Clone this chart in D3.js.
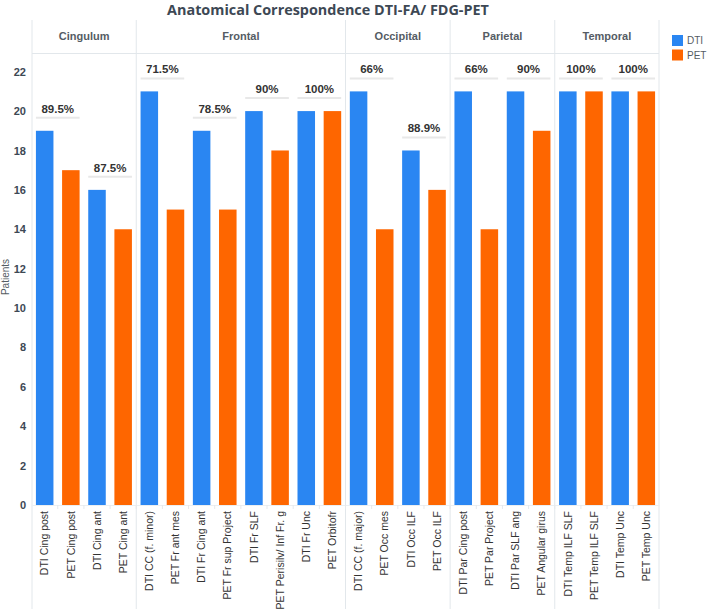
<!DOCTYPE html>
<html><head><meta charset="utf-8">
<script src="https://cdn.jsdelivr.net/npm/d3@7"></script>
<style>body{margin:0;background:#fff}svg{display:block}</style>
</head><body>
<svg id="c" width="707" height="611"></svg>
<script>
const groups = ["Cingulum","Frontal","Occipital","Parietal","Temporal"];
const categories = ["DTI Cing post","PET Cing post","DTI Cing ant","PET Cing ant",
 "DTI CC (f. minor)","PET Fr ant mes","DTI Fr Cing ant","PET Fr sup Project","DTI Fr SLF","PET Perisilv/ Inf Fr. g","DTI Fr Unc","PET Orbitofr",
 "DTI CC (f. major)","PET Occ mes","DTI Occ ILF","PET Occ ILF",
 "DTI Par Cing post","PET Par Project","DTI Par SLF ang","PET Angular girus",
 "DTI Temp ILF SLF","PET Temp ILF SLF","DTI Temp Unc","PET Temp Unc"];
const categoryGroup = [0,0,0,0, 1,1,1,1,1,1,1,1, 2,2,2,2, 3,3,3,3, 4,4,4,4];
const categorySeries = ["DTI","PET","DTI","PET","DTI","PET","DTI","PET","DTI","PET","DTI","PET",
 "DTI","PET","DTI","PET","DTI","PET","DTI","PET","DTI","PET","DTI","PET"];
const patients = [19,17,16,14, 21,15,19,15,20,18,20,20, 21,14,18,16, 21,14,21,19, 21,21,21,21];
const percentLabels = ["89.5%","87.5%","71.5%","78.5%","90%","100%","66%","88.9%","66%","90%","100%","100%"];
const seriesNames = ["DTI","PET"];
const yTicks = [0,2,4,6,8,10,12,14,16,18,20,22];

const colors = {DTI:"#2a86f2", PET:"#fe6600"};
const svg = d3.select("#c");
const x = d3.scaleBand().domain(categories).range([32,659]).paddingInner(0.33).paddingOuter(0.15);
const y = d3.scaleLinear().domain([0,23]).range([505,52]);
const step = x.step(), bw = x.bandwidth();
const gridC = "#e2e7eb";

// title
svg.append("text").attr("x",328).attr("y",15).attr("text-anchor","middle")
  .attr("font-family","Open Sans").attr("font-weight","bold").attr("font-size",14.4)
  .attr("fill","#3d4854").text("Anatomical Correspondence DTI-FA/ FDG-PET");

// panel boundaries
const bounds = groups.map((g,gi)=>{
  const idx = categoryGroup.map((d,i)=>d===gi?i:-1).filter(i=>i>=0);
  const first = categories[idx[0]], last = categories[idx[idx.length-1]];
  const x0 = idx[0]===0 ? 32 : x(first) - step*x.paddingInner()/2;
  const x1 = idx[idx.length-1]===categories.length-1 ? 659 : x(last) + bw + step*x.paddingInner()/2;
  return {g,x0,x1};
});
const sepX = [32].concat(bounds.map(b=>b.x1));
svg.selectAll("line.sep").data(sepX).join("line").attr("class","sep")
  .attr("x1",d=>d).attr("x2",d=>d).attr("y1",20).attr("y2",609)
  .attr("stroke",gridC).attr("stroke-width",1);
svg.append("line").attr("x1",32).attr("x2",659).attr("y1",53.5).attr("y2",53.5).attr("stroke",gridC);
svg.selectAll("text.hdr").data(bounds).join("text").attr("class","hdr")
  .attr("x",d=>(d.x0+d.x1)/2).attr("y",40).attr("text-anchor","middle")
  .attr("font-family","Liberation Sans, Arial").attr("font-weight","bold").attr("font-size",11)
  .attr("fill","#555c64").text(d=>d.g);

// y axis
const yAxis = d3.axisLeft(y).tickValues(yTicks).tickSize(0).tickPadding(0);
const ga = svg.append("g").attr("transform","translate(26,0)").call(yAxis);
ga.select(".domain").remove();
ga.selectAll("text").attr("font-family","Liberation Sans, Arial").attr("font-weight","bold")
  .attr("font-size",11).attr("fill","#3d4854");
svg.append("text").attr("transform","translate(8.5,277) rotate(-90)").attr("text-anchor","middle")
  .attr("font-family","Liberation Sans, Arial").attr("font-size",10).attr("fill","#555c64").text("Patients");

// x axis
const xAxis = d3.axisBottom(x).tickSize(0).tickPadding(0);
const gx = svg.append("g").attr("transform","translate(0,505)").call(xAxis);
gx.select(".domain").attr("stroke","#eceff1");
gx.selectAll(".tick text").attr("transform","rotate(-90)").attr("text-anchor","end")
  .attr("x",-6).attr("y",0).attr("dy","0.35em")
  .attr("font-family","Liberation Sans, Arial").attr("font-size",10.5).attr("fill","#333");
svg.selectAll("line.xt").data(categories.slice(1)).join("line").attr("class","xt")
  .attr("x1",d=>x(d)-step*x.paddingInner()/2).attr("x2",d=>x(d)-step*x.paddingInner()/2)
  .attr("y1",505).attr("y2",509).attr("stroke","#e6e9ec");

// bars
svg.selectAll("rect.bar").data(categories).join("rect").attr("class","bar")
  .attr("x",d=>x(d)).attr("width",bw)
  .attr("y",(d,i)=>y(patients[i])).attr("height",(d,i)=>y(0)-y(patients[i]))
  .attr("fill",(d,i)=>colors[categorySeries[i]]);

// percentage annotations
const pairs = percentLabels.map((p,k)=>({p, a:categories[2*k], b:categories[2*k+1],
  m:Math.max(patients[2*k],patients[2*k+1])}));
svg.selectAll("line.pl").data(pairs).join("line").attr("class","pl")
  .attr("x1",d=>x(d.a)).attr("x2",d=>x(d.b)+bw)
  .attr("y1",d=>y(d.m+0.66)).attr("y2",d=>y(d.m+0.66))
  .attr("stroke","#e8e8e8").attr("stroke-width",2);
svg.selectAll("text.pt").data(pairs).join("text").attr("class","pt")
  .attr("x",d=>(x(d.a)+x(d.b)+bw)/2).attr("y",d=>y(d.m+0.66)-5).attr("text-anchor","middle")
  .attr("font-family","Liberation Sans, Arial").attr("font-weight","bold").attr("font-size",11.5)
  .attr("fill","#333").text(d=>d.p);

// legend
const lg = svg.selectAll("g.lg").data(seriesNames).join("g").attr("class","lg")
  .attr("transform",(d,i)=>`translate(672,${35+i*14.5})`);
lg.append("rect").attr("width",11).attr("height",11).attr("fill",d=>colors[d]);
lg.append("text").attr("x",15).attr("y",9).attr("font-family","Liberation Sans, Arial")
  .attr("font-size",10).attr("fill","#555c64").text(d=>d);
</script>
</body></html>
